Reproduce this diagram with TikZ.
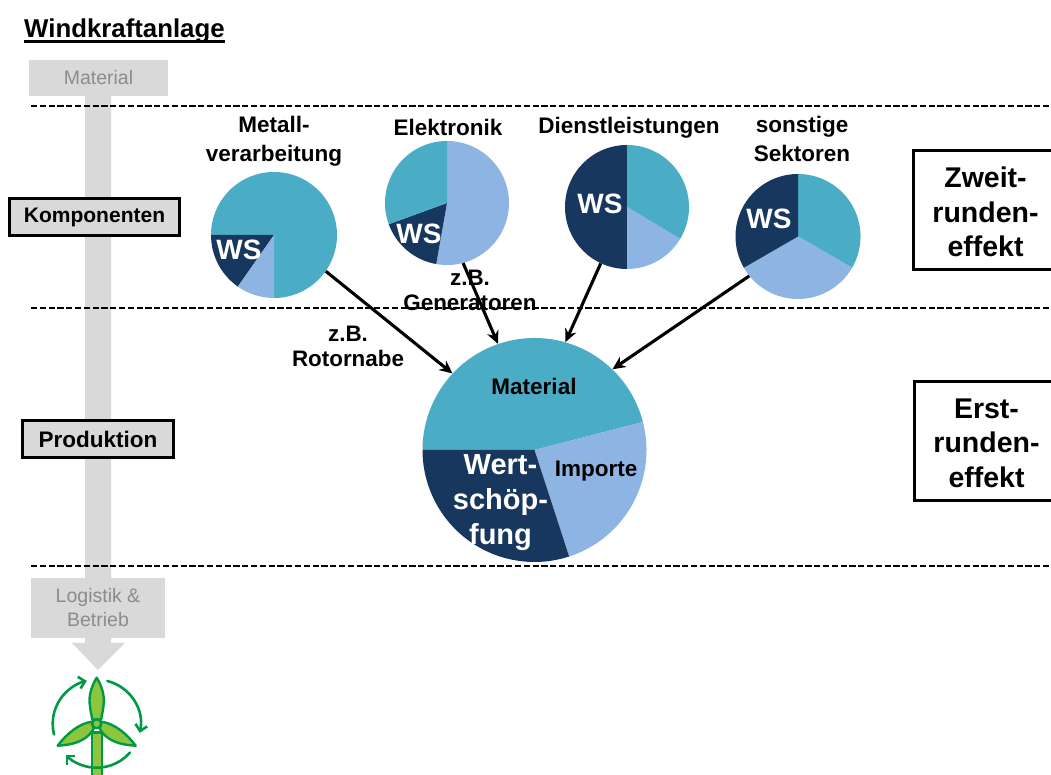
\documentclass[tikz,border=0pt]{standalone}
\usepackage{fontspec}
\setmainfont{Liberation Sans}
\usetikzlibrary{arrows.meta}
\definecolor{teal}{HTML}{4BACC6}
\definecolor{navy}{HTML}{17375E}
\definecolor{sky}{HTML}{8EB4E3}
\definecolor{lgray}{HTML}{D9D9D9}
\definecolor{tgray}{HTML}{8C8C8C}
\definecolor{wgreen}{HTML}{009A44}
\definecolor{lgreen}{HTML}{8CC63F}
\newcommand{\fs}[2]{\fontsize{#1}{#2}\selectfont}
\newcommand{\slice}[6]{\fill[#6] (#1,{775-#2}) -- +(#4:#3) arc[start angle=#4,end angle=#5,radius=#3] -- cycle;}
\tikzset{
  x=1pt,y=1pt,
  dashline/.style={black,line width=2.4pt,dash pattern=on 6.2pt off 2.6pt},
  graybox/.style={fill=lgray,inner sep=0pt,text=tgray,align=center,font=\fs{19.5}{24}},
  levelbox/.style={fill=lgray,draw=black,line width=2.6pt,inner sep=0pt},
  effectbox/.style={fill=white,draw=black,line width=3.2pt,inner sep=0pt},
  efftext/.style={inner sep=0pt,align=center,font=\fs{28.5}{34.5}\bfseries},
  lab/.style={inner sep=0pt,align=center,font=\fs{22.5}{28.5}\bfseries},
  zblab/.style={inner sep=0pt,align=center,font=\fs{22.4}{25}\bfseries},
  ws/.style={inner sep=0pt,text=white,font=\fs{28}{28}\bfseries},
  piecircle/.style={circle,inner sep=0pt,minimum size=#1},
  conn/.style={black,line width=3.1pt,-{Stealth[length=13pt,width=12pt]}},
  wline/.style={wgreen,line width=2.4pt,line join=round},
  warc/.style={wgreen,line width=2.6pt,line cap=round,-{Straight Barb[length=6pt,width=12pt]}}
}
\begin{document}
\begin{tikzpicture}
\useasboundingbox (0,0) rectangle (1051,775);
% gray process arrow
\fill[lgray] (85,{775-90}) -- (111,{775-90}) -- (111,{775-643}) -- (125,{775-643}) -- (98,{775-670}) -- (72,{775-643}) -- (85,{775-643}) -- cycle;
\node[graybox,minimum width=139pt,minimum height=36pt] (mat) at (98.5,{775-78}) {\raisebox{-1pt}{Material}};
\node[graybox,minimum width=134pt,minimum height=60pt] (log) at (98,{775-608}) {Logistik \&\\Betrieb};
% title
\node[inner sep=0pt,anchor=base west,font=\fs{25.8}{30}\bfseries] (title) at (24,{775-37.5}) {Windkraftanlage};
\draw[black,line width=2.4pt] (24,{775-41.5}) -- (225,{775-41.5});
% dashed lines
\draw[dashline] (31,{775-106}) -- (1051,{775-106});
\draw[dashline] (31,{775-308}) -- (1051,{775-308});
\draw[dashline] (31,{775-566}) -- (1051,{775-566});
% level boxes
\node[levelbox,minimum width=170pt,minimum height=37pt,font=\fs{21}{25}\bfseries] (komp) at (94.5,{775-217}) {\raisebox{-1pt}{Komponenten}};
\node[levelbox,minimum width=151pt,minimum height=37pt,font=\fs{22.5}{25}\bfseries] (prod) at (98,{775-439}) {Produktion};
% effect boxes
\node[effectbox,minimum width=150pt,minimum height=119pt] (zweit) at (988.5,{775-210}) {};
\node[effectbox,minimum width=150pt,minimum height=119pt] (erst) at (989.5,{775-441}) {};
\node[efftext] (zweitT) at (985.5,{775-212}) {Zweit-\\runden-\\effekt};
\node[efftext] (erstT) at (986.5,{775-443}) {Erst-\\runden-\\effekt};
% pie 1
\slice{274}{235}{63}{-90}{180}{teal}
\slice{274}{235}{63}{180}{235}{navy}
\slice{274}{235}{63}{235}{270}{sky}
\node[piecircle=126pt] (p1) at (274,{775-235}) {};
% pie 2
\slice{447}{203}{62}{-100}{90}{sky}
\slice{447}{203}{62}{200}{260}{navy}
\slice{447}{203}{62}{90}{200}{teal}
\node[piecircle=124pt] (p2) at (447,{775-203}) {};
% pie 3
\slice{627}{207}{62}{90}{270}{navy}
\slice{627}{207}{62}{-31}{90}{teal}
\slice{627}{207}{62}{-90}{-31}{sky}
\node[piecircle=124pt] (p3) at (627,{775-207}) {};
% pie 4
\slice{798}{236.5}{62.5}{-30}{90}{teal}
\slice{798}{236.5}{62.5}{210}{330}{sky}
\slice{798}{236.5}{62.5}{90}{210}{navy}
\node[piecircle=125pt] (p4) at (798,{775-236.5}) {};
% main pie
\slice{534.5}{450}{112}{14.5}{180}{teal}
\slice{534.5}{450}{112}{-72}{14.5}{sky}
\slice{534.5}{450}{112}{180}{288}{navy}
\node[piecircle=224pt] (main) at (534.5,{775-450}) {};
% connectors
\draw[conn] (p1.-35) -- (main.137);
\draw[conn] (p2.-75) -- (main.109);
\draw[conn] (p3.245) -- (main.74.5);
\draw[conn] (p4.219) -- (main.46.5);
% labels
\node[lab] (l1) at (274,{775-141}) {Metall-\\verarbeitung};
\node[lab] (l2) at (448,{775-127}) {Elektronik};
\node[lab] (l3) at (629,{775-128}) {Dienstleistungen};
\node[lab] (l4) at (802,{775-139}) {sonstige\\Sektoren};
\node[ws] (w1) at (239,{775-250}) {WS};
\node[ws] (w2) at (419,{775-234}) {WS};
\node[ws] (w3) at (600,{775-204}) {WS};
\node[ws] (w4) at (769,{775-219}) {WS};
\node[zblab] (zb1) at (348,{775-346.5}) {z.B.\\Rotornabe};
\node[zblab] (zb2) at (470,{775-290}) {z.B.\\Generatoren};
\node[lab] (mm) at (534,{775-386}) {Material};
\node[lab] (mi) at (596,{775-471}) {Importe};
\node[inner sep=0pt,align=center,text=white,font=\fs{29}{35}\bfseries] (mw) at (500.5,{775-503}) {Wert-\\schöp-\\fung};
% wind turbine
\begin{scope}[shift={(96.7,{775-723.7})}]
\clip (-60,-51.3) rectangle (60,60);
\draw[wline,fill=lgreen] (-5,-9) -- (5,-9) -- (5,-60) -- (-5,-60) -- cycle;
\draw[wline,fill=lgreen] (0,46) .. controls (5,38) and (8,28) .. (7,20) .. controls (6.5,13) and (5,9) .. (4.5,4) -- (-4.5,4) .. controls (-5,9) and (-6.5,13) .. (-7,20) .. controls (-8,28) and (-5,38) .. (0,46) -- cycle;
\draw[wline,fill=lgreen] (-39,-22) .. controls (-30,-10) and (-18,0) .. (-5,2) -- (-3,-5) .. controls (-8,-14) and (-18,-21) .. (-39,-22) -- cycle;
\draw[wline,fill=lgreen] (39,-22) .. controls (30,-10) and (18,0) .. (5,2) -- (3,-5) .. controls (8,-14) and (18,-21) .. (39,-22) -- cycle;
\draw[wline,fill=lgreen] (0,0) circle[radius=4.5pt];
\draw[warc] (-42.7,-10.7) arc[start angle=194,end angle=103,radius=44];
\draw[warc] (10.6,42.7) arc[start angle=76,end angle=-12,radius=44];
\draw[warc] (33.2,-28.9) arc[start angle=-41,end angle=-135,radius=44];
\end{scope}
\end{tikzpicture}
\end{document}
